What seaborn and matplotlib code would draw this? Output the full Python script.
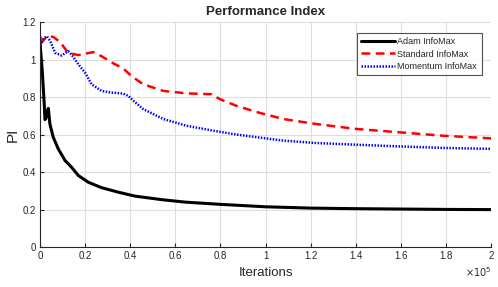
import numpy as np
import pandas as pd
import seaborn as sns
import matplotlib.pyplot as plt
from matplotlib.ticker import FuncFormatter, MultipleLocator

# iterations (units of 1e5) and PI values
adam_x = [0, 0.002, 0.006, 0.01, 0.015, 0.019, 0.022, 0.027, 0.034, 0.037, 0.044, 0.059,
          0.081, 0.111, 0.14, 0.17, 0.214, 0.273, 0.347, 0.421, 0.54, 0.643, 0.8,
          1.0, 1.2, 1.4, 1.6, 1.8, 2.0]
adam_pi = [1.12, 1.06, 1.0, 0.94, 0.84, 0.76, 0.68, 0.69, 0.73, 0.74, 0.656, 0.585,
           0.524, 0.462, 0.426, 0.382, 0.346, 0.317, 0.293, 0.272, 0.253, 0.24, 0.228,
           0.215, 0.208, 0.205, 0.203, 0.201, 0.2]

std_x = [0, 0.02, 0.044, 0.06, 0.089, 0.125, 0.17, 0.236, 0.273, 0.325, 0.369, 0.406,
         0.458, 0.547, 0.65, 0.761, 0.798, 0.872, 0.968, 1.079, 1.227, 1.404, 1.596,
         1.788, 2.0]
std_pi = [1.08, 1.11, 1.125, 1.12, 1.094, 1.036, 1.024, 1.04, 1.018, 0.98, 0.953, 0.912,
          0.868, 0.833, 0.82, 0.815, 0.789, 0.753, 0.718, 0.683, 0.656, 0.63, 0.612,
          0.594, 0.58]

mom_x = [0, 0.015, 0.03, 0.045, 0.067, 0.096, 0.125, 0.14, 0.17, 0.2, 0.229, 0.273,
         0.318, 0.369, 0.392, 0.418, 0.458, 0.547, 0.65, 0.769, 0.872, 0.968, 1.079,
         1.227, 1.404, 1.596, 1.788, 2.0]
mom_pi = [1.077, 1.11, 1.125, 1.1, 1.036, 1.022, 1.045, 1.027, 0.975, 0.93, 0.868, 0.833,
          0.824, 0.819, 0.806, 0.776, 0.736, 0.683, 0.647, 0.621, 0.6, 0.585, 0.568,
          0.555, 0.546, 0.537, 0.529, 0.524]

sns.set_theme(style="whitegrid")
plt.rcParams['font.family'] = ['Liberation Sans', 'DejaVu Sans']

fig = plt.figure(figsize=(4.98, 2.87), dpi=100)
ax = fig.add_axes([0.0803, 0.139, 0.9057, 0.784])

sns.lineplot(x=np.array(adam_x) * 1e5, y=adam_pi, ax=ax, color='black', lw=2.2,
             label='Adam InfoMax')
sns.lineplot(x=np.array(std_x) * 1e5, y=std_pi, ax=ax, color='red', lw=1.8,
             linestyle=(0, (3.5, 2.2)), label='Standard InfoMax')
sns.lineplot(x=np.array(mom_x) * 1e5, y=mom_pi, ax=ax, color='blue', lw=1.8,
             linestyle=(0, (0.6, 0.6)), label='Momentum InfoMax')

ax.set_xlim(0, 2e5)
ax.set_ylim(0, 1.2)
ax.xaxis.set_major_locator(MultipleLocator(0.2e5))
ax.yaxis.set_major_locator(MultipleLocator(0.2))
ax.xaxis.set_major_formatter(FuncFormatter(lambda v, p: f'{v / 1e5:g}'))
ax.yaxis.set_major_formatter(FuncFormatter(lambda v, p: f'{v:g}'))
ax.grid(True, color='#dedede', lw=0.8)
for s in ['top', 'right']:
    ax.spines[s].set_visible(False)
for s in ['left', 'bottom']:
    ax.spines[s].set_color('#262626')
    ax.spines[s].set_linewidth(0.8)
ax.tick_params(direction='in', length=3, width=0.8, labelsize=7, colors='#262626',
               pad=3, left=True, bottom=True)

ax.set_title('Performance Index', fontsize=9.5, fontweight='bold', pad=5)
ax.set_xlabel('Iterations', fontsize=9.5, labelpad=4)
ax.set_ylabel('PI', fontsize=11, labelpad=2)
ax.text(1.0, -0.08, r'$\times10^5$', transform=ax.transAxes, ha='right', va='top',
        fontsize=7, color='#262626')

leg = ax.legend(loc='upper right', fontsize=6.5, frameon=True, fancybox=False,
                bbox_to_anchor=(0.979, 0.952), handlelength=3.7, borderpad=0.5,
                labelspacing=0.35, handletextpad=0.3, borderaxespad=0)
leg.get_frame().set_edgecolor('#262626')
leg.get_frame().set_linewidth(0.8)

fig.savefig('out.png', dpi=100)
